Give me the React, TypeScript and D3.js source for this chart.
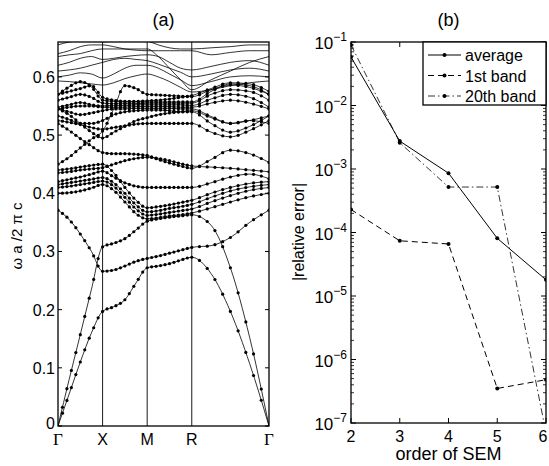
import React, { useEffect, useRef } from "react";
import * as d3 from "d3";

// ---- panel (a): band structure along Γ-X-M-R-Γ ----
const kSym = [0, 0.5, 1.0, 1.5, 2.366];
const kSymLabels = ["Γ", "X", "M", "R", "Γ"];
const kNodes = [
  0, 0.125, 0.25, 0.375, 0.5, 0.625, 0.75, 0.875, 1.0, 1.125, 1.25, 1.375, 1.5,
  1.7165, 1.933, 2.1495, 2.366,
];
const freqTicks = [0, 0.1, 0.2, 0.3, 0.4, 0.5, 0.6];

// bands computed with SEM (drawn with dots)
const dottedBands = [
  [0, 0.055, 0.11, 0.16, 0.197, 0.205, 0.217, 0.246, 0.272, 0.275, 0.279, 0.285, 0.29, 0.262, 0.197, 0.107, 0],
  [0, 0.08, 0.157, 0.235, 0.308, 0.314, 0.322, 0.337, 0.352, 0.356, 0.359, 0.361, 0.363, 0.345, 0.272, 0.152, 0],
  [0.371, 0.355, 0.33, 0.3, 0.266, 0.268, 0.275, 0.283, 0.288, 0.292, 0.297, 0.302, 0.307, 0.31, 0.324, 0.35, 0.371],
  [0.4, 0.401, 0.404, 0.409, 0.415, 0.405, 0.385, 0.365, 0.356, 0.358, 0.361, 0.363, 0.366, 0.375, 0.385, 0.394, 0.4],
  [0.41, 0.412, 0.415, 0.418, 0.421, 0.412, 0.393, 0.373, 0.362, 0.364, 0.367, 0.37, 0.373, 0.385, 0.396, 0.405, 0.41],
  [0.415, 0.418, 0.421, 0.424, 0.427, 0.418, 0.4, 0.38, 0.368, 0.37, 0.374, 0.377, 0.381, 0.393, 0.404, 0.411, 0.415],
  [0.42, 0.424, 0.428, 0.433, 0.438, 0.428, 0.418, 0.412, 0.41, 0.41, 0.41, 0.41, 0.41, 0.418, 0.428, 0.433, 0.425],
  [0.435, 0.437, 0.44, 0.442, 0.444, 0.45, 0.456, 0.46, 0.462, 0.46, 0.456, 0.451, 0.447, 0.445, 0.443, 0.44, 0.437],
  [0.44, 0.442, 0.445, 0.448, 0.45, 0.435, 0.41, 0.388, 0.375, 0.377, 0.38, 0.384, 0.388, 0.4, 0.41, 0.417, 0.42],
  [0.45, 0.462, 0.478, 0.493, 0.507, 0.545, 0.585, 0.58, 0.57, 0.569, 0.568, 0.567, 0.566, 0.578, 0.586, 0.582, 0.57],
  [0.52, 0.508, 0.494, 0.481, 0.47, 0.468, 0.468, 0.467, 0.465, 0.458, 0.452, 0.447, 0.443, 0.458, 0.474, 0.468, 0.453],
  [0.525, 0.522, 0.518, 0.513, 0.51, 0.513, 0.516, 0.519, 0.52, 0.52, 0.52, 0.52, 0.52, 0.505, 0.497, 0.508, 0.525],
  [0.533, 0.527, 0.52, 0.52, 0.525, 0.535, 0.54, 0.542, 0.543, 0.543, 0.542, 0.54, 0.54, 0.52, 0.505, 0.515, 0.533],
  [0.545, 0.54, 0.535, 0.538, 0.542, 0.545, 0.545, 0.546, 0.546, 0.546, 0.546, 0.545, 0.545, 0.532, 0.52, 0.525, 0.52],
  [0.545, 0.548, 0.55, 0.55, 0.548, 0.548, 0.548, 0.549, 0.549, 0.549, 0.549, 0.548, 0.548, 0.555, 0.56, 0.555, 0.545],
  [0.548, 0.552, 0.556, 0.552, 0.55, 0.551, 0.551, 0.552, 0.552, 0.552, 0.552, 0.552, 0.551, 0.562, 0.57, 0.565, 0.548],
  [0.545, 0.535, 0.52, 0.505, 0.495, 0.505, 0.515, 0.525, 0.53, 0.535, 0.538, 0.54, 0.542, 0.53, 0.52, 0.525, 0.533],
  [0.56, 0.565, 0.57, 0.565, 0.555, 0.554, 0.554, 0.554, 0.555, 0.555, 0.555, 0.555, 0.555, 0.57, 0.578, 0.575, 0.56],
  [0.57, 0.583, 0.592, 0.583, 0.56, 0.558, 0.557, 0.557, 0.557, 0.557, 0.557, 0.557, 0.557, 0.575, 0.588, 0.585, 0.57],
  [0.57, 0.575, 0.58, 0.585, 0.565, 0.56, 0.558, 0.558, 0.559, 0.56, 0.562, 0.565, 0.568, 0.58, 0.59, 0.588, 0.575],
];

// reference bands above (lines only)
const thinBands = [
  [0.593, 0.592, 0.59, 0.588, 0.586, 0.59, 0.597, 0.602, 0.605, 0.6, 0.592, 0.582, 0.574, 0.578, 0.585, 0.59, 0.593],
  [0.6, 0.603, 0.607, 0.605, 0.598, 0.605, 0.615, 0.62, 0.62, 0.615, 0.605, 0.595, 0.585, 0.592, 0.6, 0.602, 0.6],
  [0.61, 0.612, 0.615, 0.62, 0.625, 0.63, 0.632, 0.63, 0.628, 0.622, 0.615, 0.608, 0.6, 0.605, 0.612, 0.615, 0.61],
  [0.62, 0.625, 0.632, 0.635, 0.63, 0.632, 0.635, 0.637, 0.638, 0.635, 0.625, 0.615, 0.612, 0.618, 0.625, 0.628, 0.62],
  [0.635, 0.638, 0.64, 0.645, 0.648, 0.648, 0.648, 0.648, 0.648, 0.635, 0.615, 0.595, 0.578, 0.595, 0.61, 0.625, 0.635],
  [0.64, 0.645, 0.652, 0.655, 0.655, 0.652, 0.648, 0.646, 0.645, 0.645, 0.645, 0.645, 0.645, 0.638, 0.642, 0.645, 0.645],
  [0.655, 0.66, 0.662, 0.662, 0.66, 0.662, 0.665, 0.665, 0.662, 0.655, 0.65, 0.648, 0.648, 0.65, 0.652, 0.655, 0.655],
];

// ---- panel (b): convergence of SEM ----
const semOrders = [2, 3, 4, 5, 6];
const avgError = [5.8e-2, 2.75e-3, 8.6e-4, 8.1e-5, 1.8e-5];
const firstBandError = [2.3e-4, 7.4e-5, 6.6e-5, 3.5e-7, 4.8e-7];
const band20Error = [9.0e-2, 2.6e-3, 5.2e-4, 5.2e-4, 7e-8];
const errExponents = [-1, -2, -3, -4, -5, -6, -7];

const FONT = "'Liberation Sans', Arial, Helvetica, sans-serif";

const App = () => {
  const ref = useRef<SVGSVGElement>(null);

  useEffect(() => {
    const svg = d3.select(ref.current);
    svg.selectAll("*").remove();

    // ===== panel (a) =====
    const ax = { l: 58, r: 269, t: 42, b: 426 };
    const x = d3.scaleLinear().domain([0, 2.366]).range([ax.l, ax.r]);
    const y = d3.scaleLinear().domain([0, 0.66]).range([ax.b, ax.t]);

    svg.append("defs").append("clipPath").attr("id", "clipA")
      .append("rect").attr("x", ax.l).attr("y", ax.t)
      .attr("width", ax.r - ax.l).attr("height", ax.b - ax.t);

    const ga = svg.append("g").attr("clip-path", "url(#clipA)");

    const line = d3.line<number>()
      .x((_, i) => x(kNodes[i]))
      .y((d) => y(d))
      .curve(d3.curveMonotoneX);

    // symmetry lines
    kSym.slice(1, 4).forEach((k) => {
      ga.append("line").attr("x1", x(k)).attr("x2", x(k))
        .attr("y1", ax.t).attr("y2", ax.b)
        .attr("stroke", "#000").attr("stroke-width", 0.9);
    });

    thinBands.concat(dottedBands).forEach((b) => {
      ga.append("path").attr("d", line(b)).attr("fill", "none")
        .attr("stroke", "#000").attr("stroke-width", 0.8);
    });

    // computation grid: 10 k-steps per segment
    const gridX: number[] = [];
    for (let s = 0; s < kSym.length - 1; s++) {
      for (let j = 0; j < 10; j++) gridX.push(x(kSym[s] + (j * (kSym[s + 1] - kSym[s])) / 10));
    }
    gridX.push(x(kSym[kSym.length - 1]));

    dottedBands.forEach((b) => {
      const p = ga.append("path").attr("d", line(b)).attr("fill", "none")
        .attr("stroke", "none").node() as SVGPathElement;
      const len = p.getTotalLength();
      let prev = p.getPointAtLength(0);
      let xi = 0;
      const pts: [number, number][] = [];
      for (let l = 0.6; l <= len + 0.6; l += 0.6) {
        const q = p.getPointAtLength(Math.min(l, len));
        while (xi < gridX.length && gridX[xi] <= q.x + 1e-6) {
          const t = q.x === prev.x ? 0 : (gridX[xi] - prev.x) / (q.x - prev.x);
          pts.push([gridX[xi], prev.y + t * (q.y - prev.y)]);
          xi++;
        }
        prev = q;
      }
      ga.selectAll(null).data(pts).enter().append("circle")
        .attr("cx", (d) => d[0]).attr("cy", (d) => d[1]).attr("r", 1.6).attr("fill", "#000");
    });

    // frame and ticks
    svg.append("rect").attr("x", ax.l).attr("y", ax.t)
      .attr("width", ax.r - ax.l).attr("height", ax.b - ax.t)
      .attr("fill", "none").attr("stroke", "#000").attr("stroke-width", 1.3);

    freqTicks.forEach((v) => {
      svg.append("line").attr("x1", ax.l).attr("x2", ax.l + 4).attr("y1", y(v)).attr("y2", y(v))
        .attr("stroke", "#000").attr("stroke-width", 1);
      svg.append("line").attr("x1", ax.r - 4).attr("x2", ax.r).attr("y1", y(v)).attr("y2", y(v))
        .attr("stroke", "#000").attr("stroke-width", 1);
      svg.append("text").attr("x", ax.l - 3).attr("y", y(v) + (v === 0 ? 3 : 6))
        .attr("text-anchor", "end").attr("font-family", FONT).attr("font-size", 16)
        .text(v === 0 ? "0" : d3.format(".1f")(v));
    });

    kSym.forEach((k, i) => {
      const isGamma = kSymLabels[i] === "Γ";
      svg.append("text").attr("x", x(k)).attr("y", 445)
        .attr("text-anchor", "middle")
        .attr("font-family", isGamma ? "'Liberation Serif', 'Times New Roman', serif" : FONT)
        .attr("font-size", isGamma ? 17 : 16)
        .text(kSymLabels[i]);
    });

    svg.append("text").attr("x", (ax.l + ax.r) / 2).attr("y", 26)
      .attr("text-anchor", "middle").attr("font-family", FONT).attr("font-size", 18).text("(a)");

    svg.append("text").attr("transform", `translate(22,236) rotate(-90)`)
      .attr("text-anchor", "middle").attr("font-family", FONT).attr("font-size", 15)
      .text("ω a /2 π c");

    // ===== panel (b) =====
    const bx = { l: 351, r: 546, t: 42, b: 423 };
    const xb = d3.scaleLinear().domain([2, 6]).range([bx.l, bx.r]);
    const yb = d3.scaleLog().domain([1e-7, 1e-1]).range([bx.b, bx.t]);

    svg.select("defs").append("clipPath").attr("id", "clipB")
      .append("rect").attr("x", bx.l).attr("y", bx.t)
      .attr("width", bx.r - bx.l).attr("height", bx.b - bx.t);

    // minor + major ticks
    for (let e = -7; e < -1; e++) {
      for (let m = 2; m <= 9; m++) {
        const v = m * Math.pow(10, e);
        [[bx.l, bx.l + 3], [bx.r - 3, bx.r]].forEach(([a, c]) => {
          svg.append("line").attr("x1", a).attr("x2", c).attr("y1", yb(v)).attr("y2", yb(v))
            .attr("stroke", "#000").attr("stroke-width", 0.8);
        });
      }
    }
    errExponents.forEach((e) => {
      const v = Math.pow(10, e);
      [[bx.l, bx.l + 5], [bx.r - 5, bx.r]].forEach(([a, c]) => {
        svg.append("line").attr("x1", a).attr("x2", c).attr("y1", yb(v)).attr("y2", yb(v))
          .attr("stroke", "#000").attr("stroke-width", 1);
      });
      const t = svg.append("text").attr("x", 347).attr("y", yb(v) + 7)
        .attr("text-anchor", "end").attr("font-family", FONT).attr("font-size", 17);
      t.append("tspan").text("10");
      t.append("tspan").attr("dy", -8).attr("font-size", 12).text(`−${-e}`);
    });
    semOrders.forEach((o) => {
      [[bx.b, bx.b - 5], [bx.t, bx.t + 5]].forEach(([a, c]) => {
        svg.append("line").attr("x1", xb(o)).attr("x2", xb(o)).attr("y1", a).attr("y2", c)
          .attr("stroke", "#000").attr("stroke-width", 1);
      });
      svg.append("text").attr("x", Math.min(xb(o), 543)).attr("y", 442).attr("text-anchor", "middle")
        .attr("font-family", FONT).attr("font-size", 16).text(String(o));
    });

    const gb = svg.append("g").attr("clip-path", "url(#clipB)");
    const series = [
      { vals: avgError, dash: null, w: 1 },
      { vals: firstBandError, dash: "6,4", w: 1 },
      { vals: band20Error, dash: "7,3,1.5,3", w: 0.8 },
    ];
    const lineB = d3.line<number>().x((_, i) => xb(semOrders[i])).y((d) => yb(d));
    series.forEach((s) => {
      gb.append("path").attr("d", lineB(s.vals)).attr("fill", "none")
        .attr("stroke", "#000").attr("stroke-width", s.w)
        .attr("stroke-dasharray", s.dash);
      gb.selectAll(null).data(s.vals).enter().append("circle")
        .attr("cx", (_, i) => xb(semOrders[i])).attr("cy", (d) => yb(d))
        .attr("r", 2).attr("fill", "#000");
    });

    svg.append("rect").attr("x", bx.l).attr("y", bx.t)
      .attr("width", bx.r - bx.l).attr("height", bx.b - bx.t)
      .attr("fill", "none").attr("stroke", "#000").attr("stroke-width", 1.3);

    // legend
    const lg = svg.append("g");
    lg.append("rect").attr("x", 423).attr("y", 42).attr("width", 123).attr("height", 63)
      .attr("fill", "#fff").attr("stroke", "#000").attr("stroke-width", 1.3);
    const names = ["average", "1st band", "20th band"];
    names.forEach((n, i) => {
      const yy = 55 + i * 20.5;
      lg.append("line").attr("x1", 428).attr("x2", 461).attr("y1", yy).attr("y2", yy)
        .attr("stroke", "#000").attr("stroke-width", series[i].w)
        .attr("stroke-dasharray", series[i].dash);
      lg.append("circle").attr("cx", 444.5).attr("cy", yy).attr("r", 2).attr("fill", "#000");
      lg.append("text").attr("x", 465).attr("y", yy + 6).attr("font-family", FONT)
        .attr("font-size", 16).text(n);
    });

    svg.append("text").attr("x", (bx.l + bx.r) / 2).attr("y", 26)
      .attr("text-anchor", "middle").attr("font-family", FONT).attr("font-size", 18).text("(b)");
    svg.append("text").attr("x", (bx.l + bx.r) / 2).attr("y", 460)
      .attr("text-anchor", "middle").attr("font-family", FONT).attr("font-size", 18).text("order of SEM");
    svg.append("text").attr("transform", `translate(304,232) rotate(-90)`)
      .attr("text-anchor", "middle").attr("font-family", FONT).attr("font-size", 16)
      .text("|relative error|");
  }, []);

  return (
    <svg
      ref={ref}
      width={549}
      height={466}
      style={{ position: "absolute", left: 0, top: 0, background: "#fff" }}
    />
  );
};

export default App;
